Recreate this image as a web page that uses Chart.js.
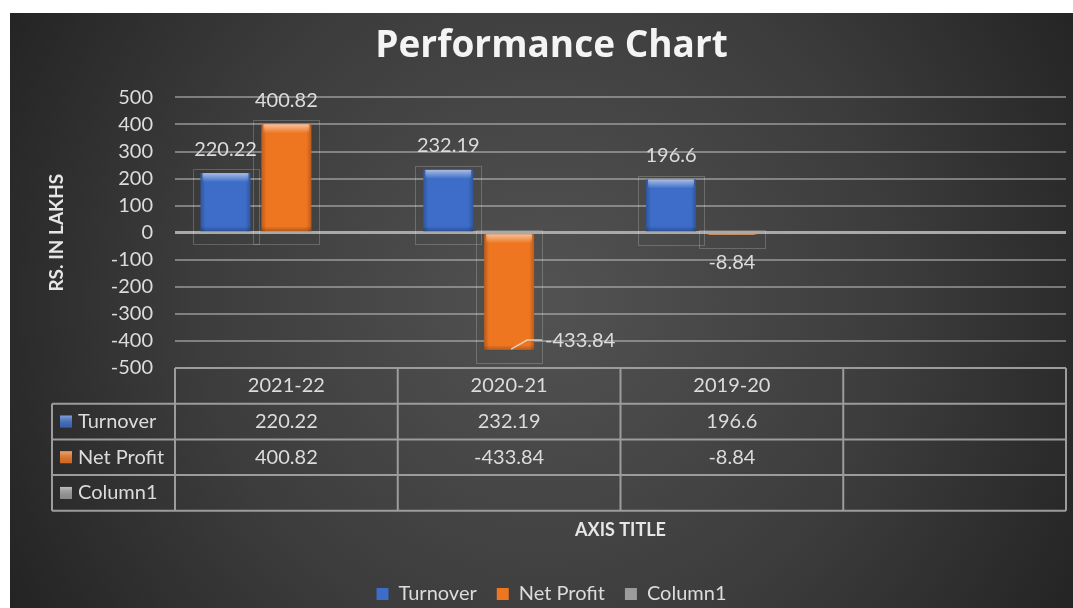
<!DOCTYPE html>
<html>
<head>
<meta charset="utf-8">
<script src="https://cdn.jsdelivr.net/npm/chart.js@4.4.1/dist/chart.umd.min.js"></script>
<style>
html, body { margin: 0; padding: 0; background: #fff; }
#wrap { width: 1073px; height: 608px; }
</style>
</head>
<body>
<div id="wrap"><canvas id="myChart" width="1073" height="608"></canvas></div>
<script>
// chart data
var categories = ["2021-22", "2020-21", "2019-20", ""];
var turnover = [220.22, 232.19, 196.6, null];
var netProfit = [400.82, -433.84, -8.84, null];
var column1 = [null, null, null, null];
var seriesNames = ["Turnover", "Net Profit", "Column1"];
var yMin = -500, yMax = 500, yStep = 100;

var colors = ["#3d6dc8", "#ef7621", "#9c9c9c"];
var lightText = "#dcdcdc";
var tableLine = "#9c9c9c";

Chart.defaults.font.family = "Lato";

// dark background with lighter middle
var bgPlugin = {
	id: "bg",
	beforeDraw: function(chart) {
		var ctx = chart.ctx;
		ctx.save();
		ctx.fillStyle = "#fff";
		ctx.fillRect(0, 0, chart.width, chart.height);
		var g = ctx.createRadialGradient(545, 300, 20, 545, 300, 620);
		g.addColorStop(0, "#515151");
		g.addColorStop(0.55, "#3c3c3c");
		g.addColorStop(1, "#232323");
		ctx.fillStyle = g;
		ctx.fillRect(10, 13, chart.width - 10, chart.height - 13);
		ctx.restore();
	}
};

// bevel on each bar, faint outlines and the value labels
var barPlugin = {
	id: "bars",
	afterDatasetsDraw: function(chart) {
		var ctx = chart.ctx;
		var area = chart.chartArea;
		ctx.save();
		chart.data.datasets.forEach(function(ds, di) {
			var meta = chart.getDatasetMeta(di);
			meta.data.forEach(function(bar, i) {
				var v = ds.data[i];
				if (v === null || v === undefined) return;
				var left = bar.x - bar.width / 2, right = bar.x + bar.width / 2;
				var top = Math.min(bar.y, bar.base), bottom = Math.max(bar.y, bar.base);
				var h = bottom - top;
				// side shading
				var gs = ctx.createLinearGradient(left, 0, right, 0);
				gs.addColorStop(0, "rgba(0,0,0,0.22)");
				gs.addColorStop(0.1, "rgba(0,0,0,0)");
				gs.addColorStop(0.9, "rgba(0,0,0,0)");
				gs.addColorStop(1, "rgba(0,0,0,0.22)");
				ctx.fillStyle = gs;
				ctx.fillRect(left, top, right - left, h);
				// top highlight
				var hh = Math.min(9, h);
				var gt = ctx.createLinearGradient(0, top, 0, top + hh);
				gt.addColorStop(0, "rgba(255,255,255,0.55)");
				gt.addColorStop(1, "rgba(255,255,255,0)");
				ctx.fillStyle = gt;
				ctx.fillRect(left + 2, top, right - left - 4, hh);
				// bottom shade
				var bh = Math.min(5, h);
				var gb = ctx.createLinearGradient(0, bottom - bh, 0, bottom);
				gb.addColorStop(0, "rgba(0,0,0,0)");
				gb.addColorStop(1, "rgba(0,0,0,0.25)");
				ctx.fillStyle = gb;
				ctx.fillRect(left, bottom - bh, right - left, bh);
				// faint outline box
				ctx.strokeStyle = "rgba(255,255,255,0.2)";
				ctx.lineWidth = 1;
				ctx.strokeRect(Math.round(left - 8) + 0.5, Math.round(top - 4) + 0.5, Math.round(right - left + 16), Math.round(h + 17));

				// value label
				ctx.font = "20px Lato";
				ctx.fillStyle = lightText;
				ctx.textBaseline = "middle";
				var txt = String(v);
				if (v >= 0) {
					ctx.textAlign = "center";
					ctx.fillText(txt, bar.x, bar.y - 24);
				} else if (bar.y + 26 + 10 < area.bottom) {
					ctx.textAlign = "center";
					ctx.fillText(txt, bar.x, bar.y + 27);
				} else {
					// no room below: put it to the right with a leader line
					var lx = right + 11, ly = bar.y - 10;
					ctx.textAlign = "left";
					ctx.fillText(txt, lx, ly);
					ctx.strokeStyle = "rgba(230,230,230,0.8)";
					ctx.lineWidth = 1.5;
					ctx.beginPath();
					ctx.moveTo(bar.x + 2, bar.y - 1);
					ctx.lineTo(bar.x + 18, ly);
					ctx.lineTo(lx - 3, ly);
					ctx.stroke();
				}
			});
		});
		ctx.restore();
	}
};

// data table under the plot
var tablePlugin = {
	id: "table",
	afterDraw: function(chart) {
		var ctx = chart.ctx;
		var x = chart.scales.x;
		var area = chart.chartArea;
		var colW = (x.right - x.left) / categories.length;
		var rowH = 35.7;
		var top = area.bottom;
		var nameLeft = 52;
		var rows = [turnover, netProfit, column1];
		var bottom = top + rowH * (rows.length + 1);
		ctx.save();
		ctx.strokeStyle = tableLine;
		ctx.lineWidth = 2;
		ctx.beginPath();
		ctx.moveTo(x.left, top);
		ctx.lineTo(x.right, top);
		for (var r = 1; r <= rows.length + 1; r++) {
			ctx.moveTo(nameLeft, top + r * rowH);
			ctx.lineTo(x.right, top + r * rowH);
		}
		for (var c = 0; c <= categories.length; c++) {
			ctx.moveTo(x.left + c * colW, top);
			ctx.lineTo(x.left + c * colW, bottom);
		}
		ctx.moveTo(nameLeft, top + rowH);
		ctx.lineTo(nameLeft, bottom);
		ctx.stroke();

		ctx.font = "20px Lato";
		ctx.fillStyle = lightText;
		ctx.textBaseline = "middle";
		ctx.textAlign = "center";
		categories.forEach(function(cat, i) {
			ctx.fillText(cat, x.getPixelForValue(i), top + rowH / 2);
		});
		rows.forEach(function(vals, r) {
			var cy = top + rowH * (r + 1.5);
			// legend key
			var g = ctx.createLinearGradient(0, cy - 6, 0, cy + 6);
			g.addColorStop(0, "rgba(255,255,255,0.35)");
			g.addColorStop(1, "rgba(0,0,0,0.1)");
			ctx.fillStyle = colors[r];
			ctx.fillRect(nameLeft + 8, cy - 6, 12, 12);
			ctx.fillStyle = g;
			ctx.fillRect(nameLeft + 8, cy - 6, 12, 12);
			ctx.fillStyle = lightText;
			ctx.textAlign = "left";
			ctx.fillText(seriesNames[r], nameLeft + 26, cy);
			ctx.textAlign = "center";
			vals.forEach(function(v, i) {
				if (v === null) return;
				ctx.fillText(String(v), x.getPixelForValue(i), cy);
			});
		});
		ctx.restore();
	}
};

var data = {
	labels: categories,
	datasets: [
		{ label: seriesNames[0], data: turnover, backgroundColor: colors[0] },
		{ label: seriesNames[1], data: netProfit, backgroundColor: colors[1] },
		{ label: seriesNames[2], data: column1, backgroundColor: colors[2] }
	]
};

var option = {
	responsive: false,
	animation: false,
	devicePixelRatio: 1,
	categoryPercentage: 0.82,
	barPercentage: 0.82,
	layout: { padding: { top: 13, left: 37, right: 7, bottom: -6 } },
	plugins: {
		title: {
			display: true,
			text: "Performance Chart",
			color: "#f4f4f4",
			font: { family: "Open Sans", size: 37, weight: "bold" },
			padding: { top: 11, bottom: 29 }
		},
		legend: {
			position: "bottom",
			labels: {
				color: lightText,
				font: { size: 20 },
				boxWidth: 12,
				boxHeight: 12,
				padding: 20,
				generateLabels: function(chart) {
					return seriesNames.map(function(n, i) {
						return { text: n, fillStyle: colors[i], strokeStyle: colors[i], lineWidth: 0, datasetIndex: i, fontColor: lightText };
					});
				}
			}
		},
		tooltip: { enabled: false }
	},
	scales: {
		x: {
			ticks: { display: false },
			grid: { display: false },
			border: { display: false },
			title: {
				display: true,
				text: "AXIS TITLE",
				color: "#e6e6e6",
				font: { size: 18, weight: "bold" },
				padding: { top: 0, bottom: 23 }
			},
			afterFit: function(s) { s.height = 196; }
		},
		y: {
			min: yMin,
			max: yMax,
			ticks: { stepSize: yStep, autoSkip: false, color: lightText, font: { size: 20 }, padding: 22 },
			grid: {
				drawTicks: false,
				color: function(c) { return c.tick && c.tick.value === 0 ? "#a9a9a9" : "rgba(185,185,185,0.55)"; },
				lineWidth: function(c) { return c.tick && c.tick.value === 0 ? 3 : 2; }
			},
			border: { display: false },
			title: {
				display: true,
				text: "RS. IN LAKHS",
				color: "#e6e6e6",
				font: { size: 19, weight: "bold" },
				padding: { top: 8, bottom: 0 }
			},
			afterFit: function(s) { s.width = 138; }
		}
	}
};

var ctx = document.getElementById("myChart").getContext("2d");
var myChart = new Chart(ctx, { type: "bar", data: data, options: option, plugins: [bgPlugin, barPlugin, tablePlugin] });
</script>
</body>
</html>
